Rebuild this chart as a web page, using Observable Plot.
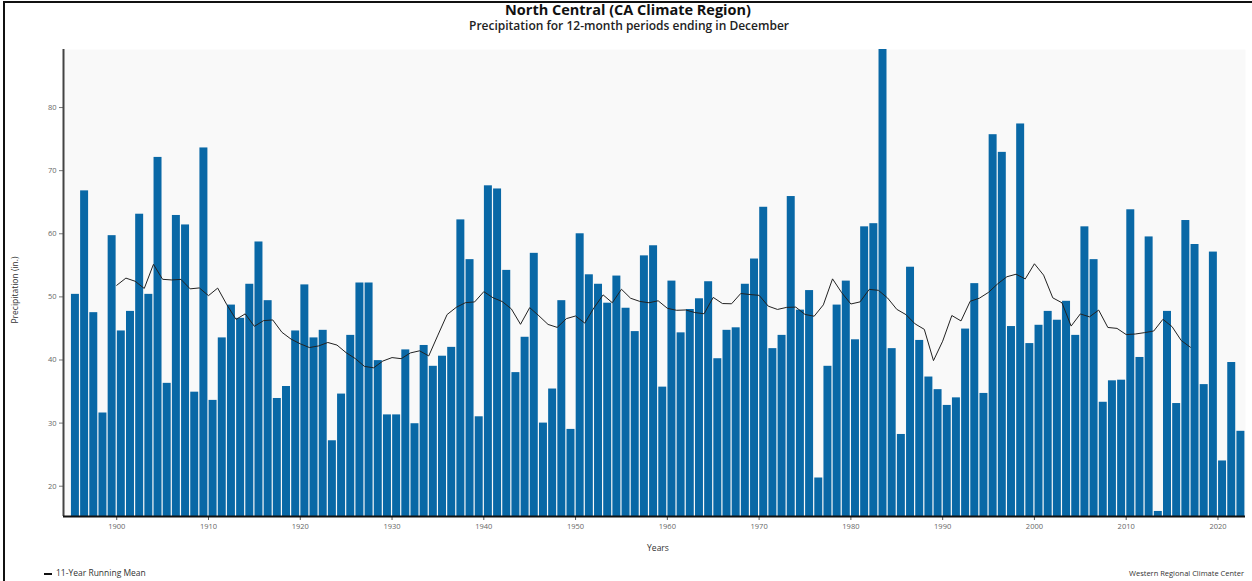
<!DOCTYPE html>
<html>
<head>
<meta charset="utf-8">
<script src="https://cdn.jsdelivr.net/npm/d3@7"></script>
<script src="https://cdn.jsdelivr.net/npm/@observablehq/plot@0.6"></script>
<style>
  html, body { margin: 0; padding: 0; background: #fff; }
  body { width: 1252px; height: 581px; position: relative; overflow: hidden; font-family: "Open Sans", "Noto Sans", sans-serif; }
  #frame { position: absolute; left: 3px; top: 1px; right: -5px; bottom: -5px; border-top: 2px solid #111; border-left: 2px solid #111; pointer-events: none; }
  .t { position: absolute; white-space: nowrap; color: #111; }
  #title { left: 0; width: 1256px; text-align: center; top: 0px; font-size: 14.5px; font-weight: 700; }
  #subtitle { left: 0; width: 1258px; text-align: center; top: 17px; font-size: 12px; font-weight: 600; color: #222; }
  #ylabel { left: 14px; top: 290px; font-size: 8.5px; color: #333; transform: translate(-50%, -50%) rotate(-90deg); }
  #xlabel { left: 658px; top: 547px; font-size: 8.5px; color: #333; transform: translate(-50%, -50%); }
  #legend { left: 44px; top: 567px; font-size: 8.5px; color: #333; }
  #legend span { display: inline-block; width: 8px; height: 2px; background: #111; vertical-align: middle; margin-right: 4px; }
  #credit { left: 1129px; top: 568px; font-size: 7.5px; color: #333; }
  #chart { position: absolute; left: 0; top: 0; }
</style>
</head>
<body>
<div id="chart"></div>
<div id="frame"></div>
<div class="t" id="title">North Central (CA Climate Region)</div>
<div class="t" id="subtitle">Precipitation for 12-month periods ending in December</div>
<div class="t" id="ylabel">Precipitation (in.)</div>
<div class="t" id="xlabel">Years</div>
<div class="t" id="legend"><span></span>11-Year Running Mean</div>
<div class="t" id="credit">Western Regional Climate Center</div>
<script>
// Years 1895–2022
const firstYear = 1895;
const precip = [
  50.4, 66.8, 47.5, 31.6, 59.7, 44.6, 47.7, 63.1, 50.4, 72.1, // 1895-1904
  36.3, 62.9, 61.4, 34.9, 73.6, 33.6, 43.5, 48.7, 46.6, 52.0, // 1905-1914
  58.7, 49.4, 33.9, 35.8, 44.6, 51.9, 43.5, 44.7, 27.2, 34.6, // 1915-1924
  43.9, 52.2, 52.2, 39.9, 31.3, 31.3, 41.6, 29.9, 42.3, 39.0, // 1925-1934
  40.6, 42.0, 62.2, 55.9, 31.0, 67.6, 67.1, 54.2, 38.0, 43.6, // 1935-1944
  56.9, 30.0, 35.4, 49.4, 29.0, 60.0, 53.5, 52.0, 49.0, 53.3, // 1945-1954
  48.2, 44.5, 56.5, 58.1, 35.7, 52.5, 44.3, 48.0, 49.7, 52.4, // 1955-1964
  40.2, 44.7, 45.1, 52.0, 56.0, 64.2, 41.8, 43.9, 65.9, 47.9, // 1965-1974
  51.0, 21.3, 39.0, 48.7, 52.5, 43.2, 61.1, 61.6, 89.2, 41.8, // 1975-1984
  28.2, 54.7, 43.1, 37.3, 35.3, 32.8, 34.0, 44.9, 52.1, 34.7, // 1985-1994
  75.7, 72.9, 45.3, 77.4, 42.6, 45.5, 47.7, 46.3, 49.3, 43.9, // 1995-2004
  61.1, 55.9, 33.3, 36.7, 36.8, 63.8, 40.4, 59.5, 16.0, 47.7, // 2005-2014
  33.1, 62.1, 58.3, 36.1, 57.1, 24.0, 39.6, 28.7              // 2015-2022
];
const years = precip.map((_, i) => firstYear + i);
const yTicks = [20, 30, 40, 50, 60, 70, 80];
const xTicks = [1900, 1910, 1920, 1930, 1940, 1950, 1960, 1970, 1980, 1990, 2000, 2010, 2020];

const data = years.map((year, i) => ({year, value: precip[i]}));

const xDomain = [1894.2, 2023];
const yDomain = [15.2, 89.2];

const chart = Plot.plot({
  width: 1252,
  height: 581,
  marginLeft: 63,
  marginRight: 7,
  marginTop: 49,
  marginBottom: 65,
  style: {background: "transparent", fontFamily: "Open Sans, Noto Sans, sans-serif"},
  x: {domain: xDomain, axis: null},
  y: {domain: yDomain, axis: null},
  marks: [
    Plot.frame({fill: "#f9f9f9", stroke: null}),
    Plot.rectY(data, {
      x1: "year",
      x2: d => d.year + 1,
      y1: () => yDomain[0],
      y2: "value",
      fill: "#0968a6",
      insetLeft: 0.6,
      insetRight: 0.6
    }),
    Plot.lineY(data, Plot.windowY({k: 11, anchor: "middle", strict: true, reduce: "mean"}, {
      x: "year", y: "value", stroke: "#222", strokeWidth: 1
    })),
    Plot.axisY(yTicks, {
      tickSize: 4, tickPadding: 3, fontSize: 7.5, fill: "#666", stroke: "#777", label: null
    }),
    Plot.axisX(xTicks, {
      tickSize: 4, tickPadding: 3, fontSize: 7.5, fill: "#666", stroke: "#555", label: null, tickFormat: d => String(d)
    }),
    Plot.ruleX([xDomain[0]], {stroke: "#444", strokeWidth: 2}),
    Plot.ruleY([yDomain[0]], {stroke: "#111", strokeWidth: 2})
  ]
});
document.getElementById("chart").appendChild(chart);
</script>
</body>
</html>
